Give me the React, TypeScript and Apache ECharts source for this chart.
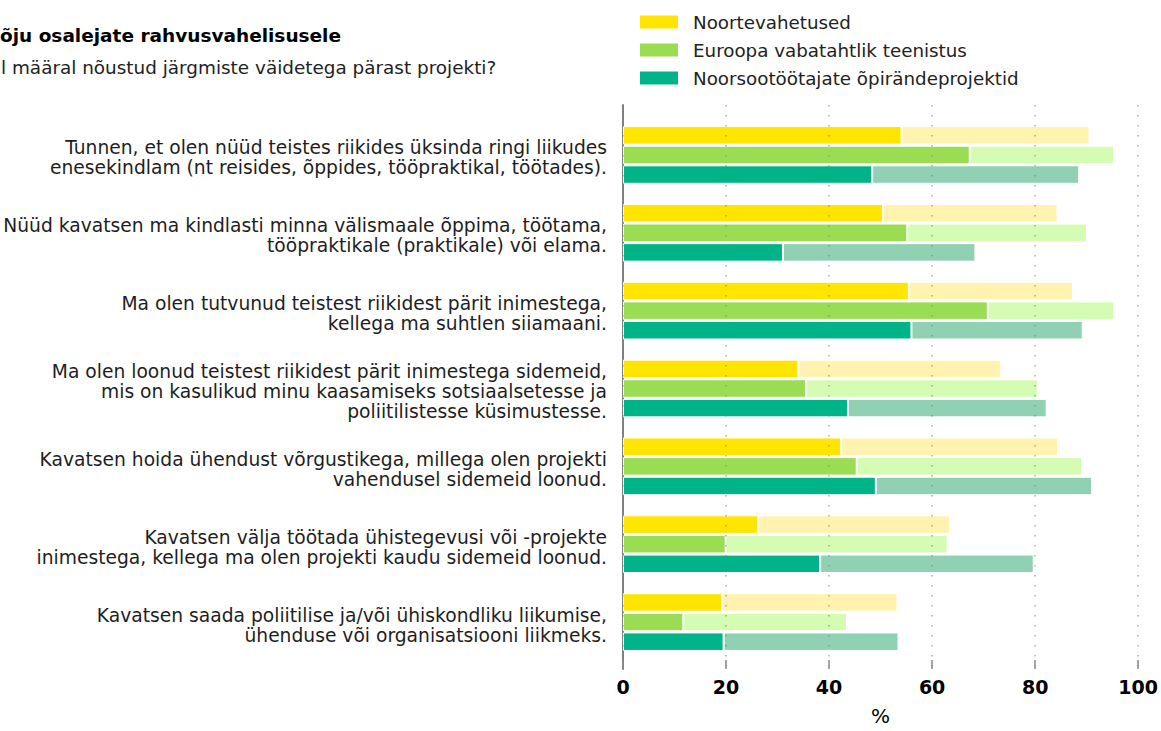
import React, { useEffect, useRef } from "react";
import * as echarts from "echarts";

const categories = [
  "Tunnen, et olen nüüd teistes riikides üksinda ringi liikudes\nenesekindlam (nt reisides, õppides, tööpraktikal, töötades).",
  "Nüüd kavatsen ma kindlasti minna välismaale õppima, töötama,\ntööpraktikale (praktikale) või elama.",
  "Ma olen tutvunud teistest riikidest pärit inimestega,\nkellega ma suhtlen siiamaani.",
  "Ma olen loonud teistest riikidest pärit inimestega sidemeid,\nmis on kasulikud minu kaasamiseks sotsiaalsetesse ja\npoliitilistesse küsimustesse.",
  "Kavatsen hoida ühendust võrgustikega, millega olen projekti\nvahendusel sidemeid loonud.",
  "Kavatsen välja töötada ühistegevusi või -projekte\ninimestega, kellega ma olen projekti kaudu sidemeid loonud.",
  "Kavatsen saada poliitilise ja/või ühiskondliku liikumise,\nühenduse või organisatsiooni liikmeks.",
];

const programNames = [
  "Noortevahetused",
  "Euroopa vabatahtlik teenistus",
  "Noorsootöötajate õpirändeprojektid",
];

// visible (cropped) title texts as shown in the reference
const titleText = "õju osalejate rahvusvahelisusele";
const subtitleText = "l määral nõustud järgmiste väidetega pärast projekti?";

// "täiesti nõus" (dark) and "pigem nõus" (light) shares, %
const youthExchangeFull = [54.0, 50.4, 55.4, 34.0, 42.3, 26.2, 19.2];
const youthExchangeRather = [36.4, 33.8, 31.8, 39.3, 42.0, 37.2, 34.0];
const evsFull = [67.2, 55.1, 70.7, 35.5, 45.3, 19.9, 11.7];
const evsRather = [28.0, 34.8, 24.5, 44.9, 43.7, 43.0, 31.7];
const youthWorkersFull = [48.3, 31.0, 55.9, 43.6, 49.0, 38.2, 19.5];
const youthWorkersRather = [40.1, 37.3, 33.2, 38.5, 41.9, 41.4, 33.9];

const xTicks = [0, 20, 40, 60, 80, 100];

const darkColors = ["#FFE500", "#9BDD52", "#00B388"];
const lightColors = ["#FFF3AF", "#D4FCB2", "#90D0B3"];

const FONT = "'DejaVu Sans', Verdana, sans-serif";

export default function App() {
  const ref = useRef<HTMLDivElement>(null);

  useEffect(() => {
    if (!ref.current) return;
    const chart = echarts.init(ref.current, null, { renderer: "svg" });

    const full = [youthExchangeFull, evsFull, youthWorkersFull];
    const rather = [youthExchangeRather, evsRather, youthWorkersRather];
    const stacks = ["ye", "evs", "yw"];

    const series: any[] = [];
    programNames.forEach((name, i) => {
      series.push({
        type: "bar",
        name,
        stack: stacks[i],
        xAxisIndex: 1,
        yAxisIndex: 1,
        data: full[i],
        barWidth: 18.5,
        barGap: "6%",
        itemStyle: { color: darkColors[i], borderColor: "#ffffff", borderWidth: 1 },
        z: 2,
      });
      series.push({
        type: "bar",
        name: name + " (pigem nõus)",
        stack: stacks[i],
        xAxisIndex: 1,
        yAxisIndex: 1,
        data: rather[i],
        barWidth: 18.5,
        barGap: "6%",
        itemStyle: { color: lightColors[i], borderColor: "#ffffff", borderWidth: 1 },
        z: 2,
      });
    });

    chart.setOption({
      animation: false,
      backgroundColor: "#ffffff",
      textStyle: { fontFamily: FONT },
      graphic: [
        {
          type: "text",
          x: 0,
          y: 35,
          style: {
            text: titleText,
            font: `bold 18.5px ${FONT}`,
            fill: "#000000",
            textAlign: "left",
            textVerticalAlign: "middle",
          },
        },
        {
          type: "text",
          x: 1,
          y: 67,
          style: {
            text: subtitleText,
            font: `18.4px ${FONT}`,
            fill: "#222222",
            textAlign: "left",
            textVerticalAlign: "middle",
          },
        },
      ],
      legend: {
        data: programNames,
        orient: "vertical",
        left: 638,
        top: 13,
        padding: 0,
        itemWidth: 40,
        itemHeight: 15,
        itemGap: 10,
        icon: "rect",
        textStyle: { fontSize: 18.3, color: "#222222", fontFamily: FONT, padding: [0, 0, 0, 9] },
      },
      grid: [
        { left: 623, top: 105, width: 516, height: 572 },
        { left: 623, top: 116, width: 516, height: 545 },
        { left: 623, top: 119, width: 516, height: 545 },
      ],
      xAxis: [
        {
          type: "value",
          gridIndex: 0,
          min: xTicks[0],
          max: xTicks[xTicks.length - 1],
          interval: 20,
          z: 5,
          axisLine: { show: false },
          axisTick: { show: true, inside: true, length: 9, lineStyle: { color: "#8a8a8a", width: 1.5 } },
          axisLabel: {
            fontSize: 19,
            fontWeight: "bold",
            color: "#000000",
            margin: 8,
            fontFamily: FONT,
          },
          splitLine: {
            show: true,
            lineStyle: { color: "rgba(130,130,130,0.65)", type: [1.5, 8.5], width: 1.5 },
          },
          name: "%",
          nameLocation: "middle",
          nameGap: 37,
          nameTextStyle: { fontSize: 20, color: "#000000", fontFamily: FONT },
        },
        {
          type: "value",
          gridIndex: 1,
          min: 0,
          max: 100,
          show: false,
          splitLine: { show: false },
        },
        {
          type: "value",
          gridIndex: 2,
          min: 0,
          max: 100,
          show: false,
          splitLine: { show: false },
        },
      ],
      yAxis: [
        {
          type: "value",
          gridIndex: 0,
          min: 0,
          max: 1,
          axisLine: { show: true, lineStyle: { color: "#808080", width: 2 } },
          axisTick: { show: false },
          axisLabel: { show: false },
          splitLine: { show: false },
        },
        {
          type: "category",
          gridIndex: 1,
          data: categories,
          inverse: true,
          axisLine: { show: false },
          axisTick: { show: false },
          axisLabel: { show: false },
        },
        {
          type: "category",
          gridIndex: 2,
          data: categories,
          inverse: true,
          axisLine: { show: false },
          axisTick: { show: false },
          splitLine: { show: false },
          axisLabel: {
            fontSize: 18.7,
            lineHeight: 20,
            color: "#1e1e1e",
            margin: 16,
            fontFamily: FONT,
            align: "right",
          },
        },
      ],
      series,
    });

    return () => {
      chart.dispose();
    };
  }, []);

  return (
    <div
      ref={ref}
      style={{ position: "fixed", left: 0, top: 0, width: 1161, height: 731 }}
    />
  );
}
